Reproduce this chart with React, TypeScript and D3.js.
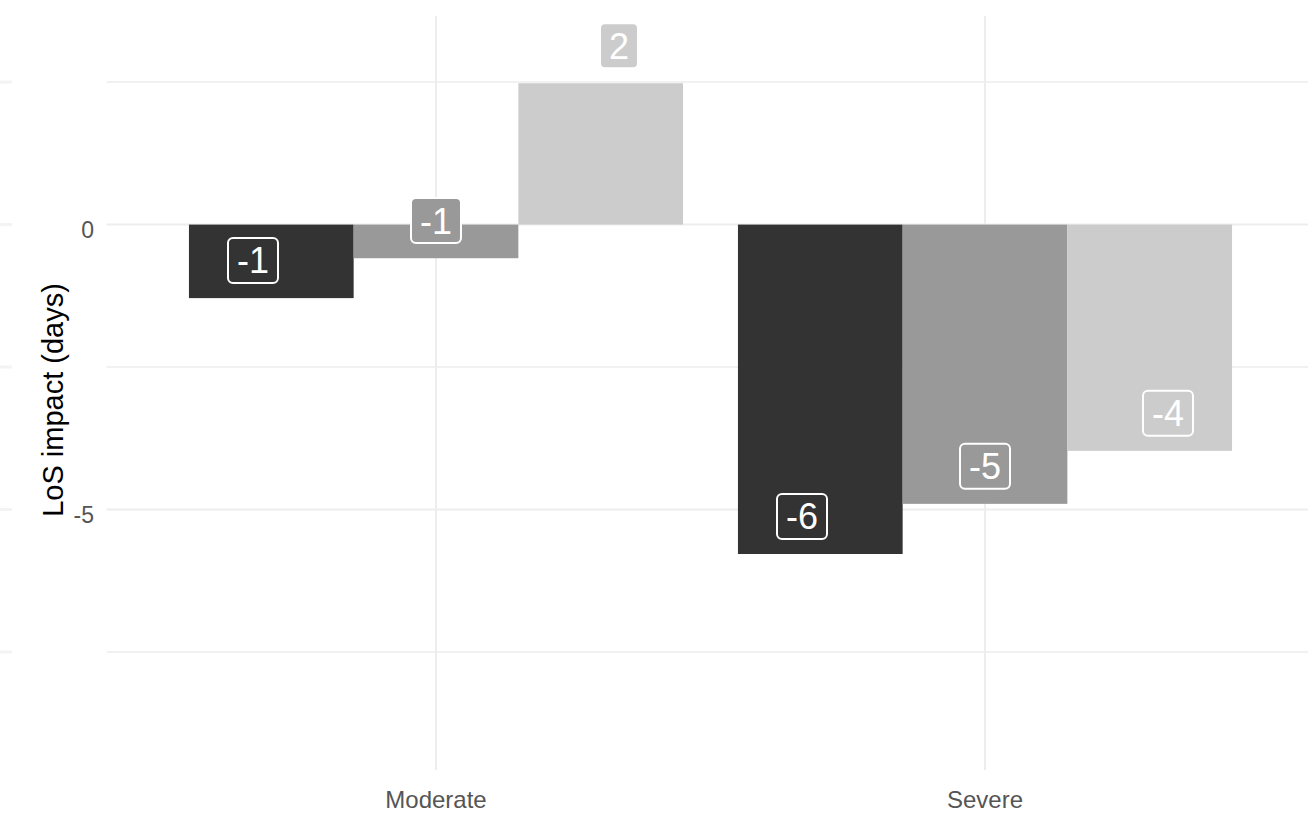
import React from "react";
import * as d3 from "d3";

const categories = ["Moderate", "Severe"];
const groups = ["A", "B", "C"];
const moderateValues = [-1.29, -0.59, 2.48];
const severeValues = [-5.78, -4.9, -3.97];
const groupColors = ["#333333", "#999999", "#cccccc"];
const majorTicks = [0, -5];
const minorTicks = [2.5, -2.5, -7.5];
const yTitle = "LoS impact (days)";
const LABEL_NUDGE = 0.66;

const W = 1308;
const H = 813;
const FONT = "'Liberation Sans', Arial, Helvetica, sans-serif";

export default function App() {
  const panel = { left: 106.6, right: 1314.4, top: 16, bottom: 770 };
  const x = d3.scalePoint<string>().domain(categories).range([436, 985]);
  const step = 985 - 436;
  const barTotal = step * 0.9;
  const labelSpread = step * 0.1;
  const xInner = d3.scaleBand<string>().domain(groups).range([-barTotal / 2, barTotal / 2]).padding(0);
  const xLabel = d3.scaleBand<string>().domain(groups).range([-labelSpread / 2, labelSpread / 2]).padding(0);
  const y = d3.scaleLinear().domain([-9.57, 3.66]).range([panel.bottom, panel.top]);
  const color = d3.scaleOrdinal<string, string>().domain(groups).range(groupColors);

  const data = categories.flatMap((c, ci) => {
    const vals = ci === 0 ? moderateValues : severeValues;
    return groups.map((g, gi) => ({ cat: c, group: g, value: vals[gi] }));
  });

  const fs = 36;
  const pad = 9;
  const labelH = 45;
  const textW = (s: string) =>
    s.split("").reduce((acc, ch) => acc + (ch === "-" ? 0.333 : 0.556) * fs, 0);

  return (
    <svg width={W} height={H} style={{ position: "absolute", left: 0, top: 0, background: "#fff" }}>
      <rect x={0} y={0} width={W} height={H} fill="#ffffff" />
      {[...majorTicks, ...minorTicks].map((t) => (
        <line key={"edge" + t} x1={0} x2={12} y1={y(t)} y2={y(t)} stroke="#f3f3f3" strokeWidth={3} />
      ))}
      {minorTicks.map((t) => (
        <line key={"mn" + t} x1={panel.left} x2={panel.right} y1={y(t)} y2={y(t)} stroke="#ededed" strokeWidth={1.5} />
      ))}
      {majorTicks.map((t) => (
        <line key={"mj" + t} x1={panel.left} x2={panel.right} y1={y(t)} y2={y(t)} stroke="#ededed" strokeWidth={2} />
      ))}
      {categories.map((c) => (
        <line key={"v" + c} x1={x(c)!} x2={x(c)!} y1={panel.top} y2={panel.bottom} stroke="#ededed" strokeWidth={2} />
      ))}
      {data.map((d) => {
        const x0 = x(d.cat)! + xInner(d.group)!;
        const y0 = y(Math.max(0, d.value));
        const y1 = y(Math.min(0, d.value));
        return (
          <rect key={d.cat + d.group} x={x0} y={y0} width={xInner.bandwidth()} height={y1 - y0} fill={color(d.group)} />
        );
      })}
      {data.map((d) => {
        const barCenter = x(d.cat)! + xInner(d.group)! + xInner.bandwidth() / 2;
        const cx = barCenter + xLabel(d.group)! + xLabel.bandwidth() / 2;
        const cy = y(d.value + LABEL_NUDGE);
        const txt = String(Math.round(d.value));
        const w = textW(txt) + 2 * pad;
        return (
          <g key={"l" + d.cat + d.group}>
            <rect
              x={cx - w / 2}
              y={cy - labelH / 2}
              width={w}
              height={labelH}
              rx={5}
              ry={5}
              fill={color(d.group)}
              stroke="#ffffff"
              strokeWidth={2}
            />
            <text x={cx} y={cy} dy="0.36em" textAnchor="middle" fontFamily={FONT} fontSize={fs} fill="#ffffff">
              {txt}
            </text>
          </g>
        );
      })}
      {majorTicks.map((t) => (
        <text key={"yt" + t} x={94} y={y(t) + 5} dy="0.36em" textAnchor="end" fontFamily={FONT} fontSize={23} fill="#555555">
          {t}
        </text>
      ))}
      {categories.map((c) => (
        <text key={"xt" + c} x={x(c)!} y={808} textAnchor="middle" fontFamily={FONT} fontSize={24} fill="#555555">
          {c}
        </text>
      ))}
      <text
        transform={`translate(63,400) rotate(-90)`}
        textAnchor="middle"
        fontFamily={FONT}
        fontSize={29}
        fill="#000000"
      >
        {yTitle}
      </text>
    </svg>
  );
}
